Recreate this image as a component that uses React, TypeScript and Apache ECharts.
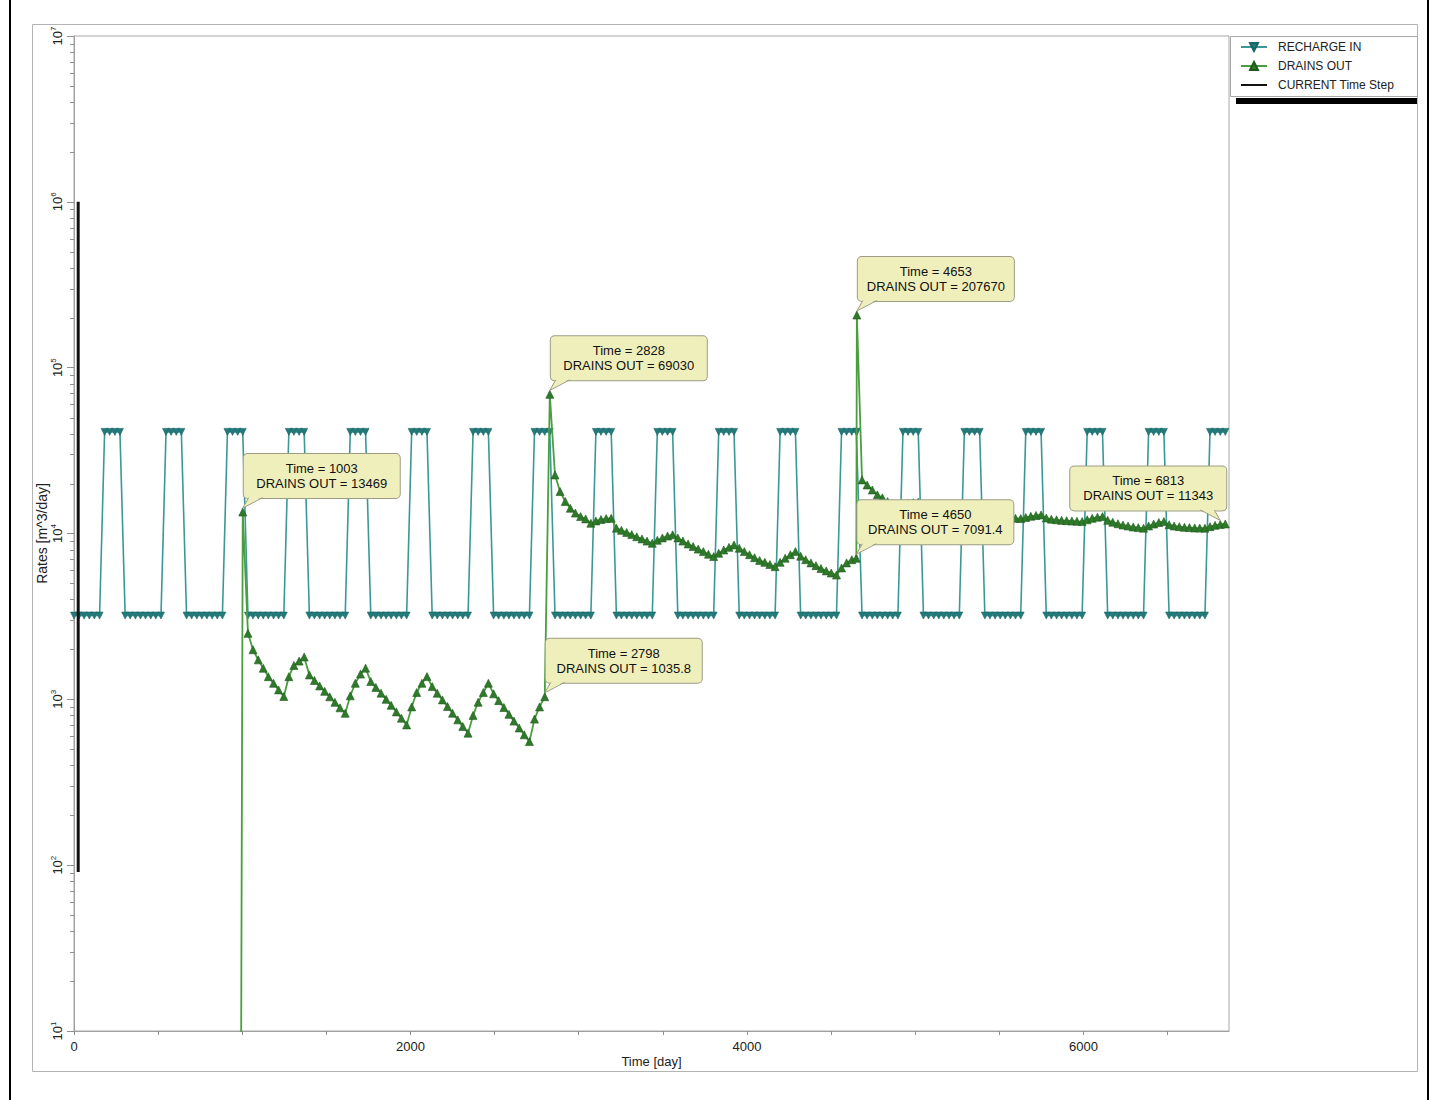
import React, { useEffect, useRef } from "react";
import * as echarts from "echarts";

// Model output times [day] (monthly steps, plus the stress-period point 4650)
const TIMES: number[] = [
  0, 30, 60, 91, 121, 152, 182, 212, 243, 273, 304, 334,
  365, 395, 425, 456, 486, 517, 547, 577, 608, 638, 669, 699,
  730, 760, 790, 821, 851, 882, 912, 942, 973, 1003, 1034, 1064,
  1095, 1125, 1155, 1186, 1216, 1247, 1277, 1307, 1338, 1368, 1399, 1429,
  1460, 1490, 1520, 1551, 1581, 1612, 1642, 1672, 1703, 1733, 1764, 1794,
  1825, 1855, 1885, 1916, 1946, 1977, 2007, 2037, 2068, 2098, 2129, 2159,
  2190, 2220, 2250, 2281, 2311, 2342, 2372, 2402, 2433, 2463, 2494, 2524,
  2555, 2585, 2615, 2646, 2676, 2707, 2737, 2767, 2798, 2828, 2859, 2889,
  2920, 2950, 2980, 3011, 3041, 3072, 3102, 3132, 3163, 3193, 3224, 3254,
  3285, 3315, 3345, 3376, 3406, 3437, 3467, 3497, 3528, 3558, 3589, 3619,
  3650, 3680, 3710, 3741, 3771, 3802, 3832, 3862, 3893, 3923, 3954, 3984,
  4015, 4045, 4075, 4106, 4136, 4167, 4197, 4227, 4258, 4288, 4319, 4349,
  4380, 4410, 4440, 4471, 4501, 4532, 4562, 4592, 4623, 4650, 4653, 4684, 4714,
  4745, 4775, 4805, 4836, 4866, 4897, 4927, 4957, 4988, 5018, 5049, 5079,
  5110, 5140, 5170, 5201, 5231, 5262, 5292, 5322, 5353, 5383, 5414, 5444,
  5475, 5505, 5535, 5566, 5596, 5627, 5657, 5687, 5718, 5748, 5779, 5809,
  5840, 5870, 5900, 5931, 5961, 5992, 6022, 6052, 6083, 6113, 6144, 6174,
  6205, 6235, 6265, 6296, 6326, 6357, 6387, 6417, 6448, 6478, 6509, 6539,
  6570, 6600, 6630, 6661, 6691, 6722, 6752, 6782, 6813, 6843,
];

// RECHARGE IN [m^3/day]: dry-season and wet-season levels
const L = 3200;
const H = 41000;
const RECHARGE_IN: number[] = [
  L, L, L, L, L, L, H, H, H, H, L, L,
  L, L, L, L, L, L, H, H, H, H, L, L,
  L, L, L, L, L, L, H, H, H, H, L, L,
  L, L, L, L, L, L, H, H, H, H, L, L,
  L, L, L, L, L, L, H, H, H, H, L, L,
  L, L, L, L, L, L, H, H, H, H, L, L,
  L, L, L, L, L, L, H, H, H, H, L, L,
  L, L, L, L, L, L, H, H, H, H, L, L,
  L, L, L, L, L, L, H, H, H, H, L, L,
  L, L, L, L, L, L, H, H, H, H, L, L,
  L, L, L, L, L, L, H, H, H, H, L, L,
  L, L, L, L, L, L, H, H, H, H, L, L,
  L, L, L, L, L, L, H, H, H, H, H, L, L,
  L, L, L, L, L, L, H, H, H, H, L, L,
  L, L, L, L, L, L, H, H, H, H, L, L,
  L, L, L, L, L, L, H, H, H, H, L, L,
  L, L, L, L, L, L, H, H, H, H, L, L,
  L, L, L, L, L, L, H, H, H, H, L, L,
  L, L, L, L, L, L, H, H, H, H,
];

// DRAINS OUT [m^3/day]; null = drains not yet active, 0 = zero outflow
const DRAINS_OUT: (number | null)[] = [
  null, null, null, null, null, null, null, null, null, null, null, null,
  null, null, null, null, null, null, null, null, null, null, null, null,
  null, null, null, null, null, null, null, null, 0, 13469, 2500, 1990,
  1730, 1540, 1370, 1250, 1140, 1040, 1370, 1600, 1700, 1800, 1403, 1300,
  1205, 1117, 1035, 959, 889, 824, 1050, 1250, 1420, 1542, 1280, 1180,
  1090, 1000, 920, 840, 770, 701, 900, 1100, 1250, 1371, 1194, 1089,
  992, 905, 825, 752, 686, 625, 800, 960, 1100, 1250, 1080, 982,
  893, 812, 739, 672, 611, 556, 760, 900, 1035.8, 69030, 22550, 17900,
  15600, 14200, 13270, 12650, 12250, 11530, 11900, 12150, 12300, 12350, 10770, 10450,
  10150, 9850, 9560, 9280, 9000, 8730, 9100, 9400, 9650, 9820, 9400, 9000,
  8650, 8350, 8050, 7780, 7500, 7260, 7600, 7950, 8250, 8530, 8150, 7780,
  7450, 7150, 6880, 6700, 6500, 6310, 6700, 7100, 7450, 7780, 7300, 6950,
  6650, 6400, 6150, 5950, 5780, 5620, 6200, 6650, 6950, 7091.4, 207670, 21040, 19620,
  18300, 17100, 16400, 15570, 15100, 14700, 15000, 15200, 15350, 15450, 14700, 14300,
  14000, 13700, 13450, 13200, 13000, 12800, 13100, 13300, 13450, 13550, 13000, 12750,
  12600, 12500, 12450, 12400, 12350, 12300, 12500, 12700, 12850, 12950, 12400, 12200,
  12100, 12000, 11950, 11900, 11850, 11800, 12100, 12350, 12550, 12650, 12000, 11700,
  11450, 11250, 11100, 10950, 10850, 10770, 11100, 11400, 11650, 11800, 11300, 11100,
  11000, 10900, 10850, 10800, 10780, 10770, 11000, 11200, 11343, 11420,
];

// CURRENT Time Step marker line
const CURRENT_TIME = [25, 25];
const CURRENT_RANGE = [1e6, 91];

// Annotated points
const CALLOUT_TIMES = [1003, 2828, 4653, 2798, 4650, 6813];
const CALLOUT_VALUES = [13469, 69030, 207670, 1035.8, 7091.4, 11343];
const CALLOUT_SIDES = ["right", "right", "right", "right", "right", "left"];

const X_MAX = 6865;
const Y_MIN = 10;
const Y_MAX = 1e7;
const FONT = 'Arial, "Liberation Sans", sans-serif';

export default function App() {
  const ref = useRef<HTMLDivElement>(null);

  useEffect(() => {
    if (!ref.current) return;
    const chart = echarts.init(ref.current, null, { renderer: "svg" });

    const rechargeData = TIMES.map((t, i) => [t, RECHARGE_IN[i]]);
    const drainsData: number[][] = [];
    TIMES.forEach((t, i) => {
      const v = DRAINS_OUT[i];
      if (v === null || v === undefined) return;
      // zero cannot be shown on a log axis: place it far below the axis (clipped)
      drainsData.push([t, v === 0 ? 1e-6 : v]);
    });
    const currentData = CURRENT_TIME.map((t, i) => [t, CURRENT_RANGE[i]]);

    const gridLeft = 74;
    const gridTop = 36;
    const gridRight = 1434 - 1229;
    const gridBottom = 1100 - 1031;

    chart.setOption({
      animation: false,
      backgroundColor: "#fff",
      textStyle: { fontFamily: FONT },
      grid: {
        left: gridLeft,
        top: gridTop,
        right: gridRight,
        bottom: gridBottom,
        show: true,
        borderColor: "#a8a8a8",
        borderWidth: 1,
        backgroundColor: "transparent",
      },
      legend: {
        orient: "vertical",
        left: 1240,
        top: 40,
        padding: 0,
        itemWidth: 26,
        itemHeight: 10,
        itemGap: 5,
        selectedMode: false,
        textStyle: { fontSize: 12, color: "#222", fontFamily: FONT, padding: [0, 0, 0, 6], lineHeight: 14 },
        data: [
          { name: "RECHARGE IN" },
          { name: "DRAINS OUT" },
          { name: "CURRENT Time Step", itemStyle: { opacity: 0 } },
        ],
      },
      xAxis: {
        type: "value",
        min: 0,
        max: X_MAX,
        interval: 500,
        name: "Time [day]",
        nameLocation: "middle",
        nameGap: 24,
        nameMoveOverlap: false,
        nameTextStyle: { fontSize: 13, color: "#222", fontFamily: FONT },
        splitLine: { show: false },
        axisLine: { show: true, lineStyle: { color: "#a0a0a0" } },
        axisTick: { show: true, length: 4, lineStyle: { color: "#909090" } },
        axisLabel: {
          fontSize: 13,
          color: "#222",
          margin: 9,
          showMaxLabel: false,
          formatter: (v: number) => (v % 2000 === 0 ? String(v) : ""),
        },
      },
      yAxis: {
        type: "log",
        logBase: 10,
        min: Y_MIN,
        max: Y_MAX,
        splitNumber: 6,
        name: "Rates [m^3/day]",
        nameLocation: "middle",
        nameGap: 25,
        nameMoveOverlap: false,
        nameTextStyle: { fontSize: 14, color: "#222", fontFamily: FONT },
        splitLine: { show: false },
        axisLine: { show: true, lineStyle: { color: "#a0a0a0" } },
        axisTick: { show: true, length: 7, lineStyle: { color: "#909090" } },
        axisLabel: {
          rotate: 90,
          margin: 8,
          color: "#222",
          formatter: (v: number) => `{b|10}{s|${Math.round(Math.log10(v))}}`,
          rich: {
            b: { fontSize: 13, color: "#222", fontFamily: FONT },
            s: { fontSize: 8, color: "#222", fontFamily: FONT, padding: [0, 0, 9, 0] },
          },
        },
      },
      series: [
        {
          name: "RECHARGE IN",
          type: "line",
          data: rechargeData,
          symbol: "triangle",
          symbolRotate: 180,
          symbolSize: 7,
          showSymbol: true,
          clip: true,
          lineStyle: { color: "#3c9898", width: 1.6 },
          itemStyle: { color: "#237a7a", borderColor: "#1a6464", borderWidth: 0.6 },
          z: 2,
        },
        {
          name: "DRAINS OUT",
          type: "line",
          data: drainsData,
          symbol: "triangle",
          symbolSize: 8,
          showSymbol: true,
          clip: true,
          lineStyle: { color: "#4a9e3e", width: 1.8 },
          itemStyle: { color: "#2f7a2a", borderColor: "#1f5a1c", borderWidth: 0.6 },
          z: 3,
        },
        {
          name: "CURRENT Time Step",
          type: "line",
          data: currentData,
          symbol: "none",
          clip: true,
          lineStyle: { color: "#111", width: 3 },
          itemStyle: { color: "#111" },
          z: 4,
        },
      ],
    });

    const graphics: any[] = [];

    // outer frame lines
    graphics.push({
      type: "rect",
      shape: { x: 32.5, y: 24.5, width: 1385, height: 1047 },
      style: { fill: "none", stroke: "#b4b4b4", lineWidth: 1 },
      z: 1,
    });
    graphics.push({ type: "rect", shape: { x: 9, y: 0, width: 2, height: 1100 }, style: { fill: "#000" }, z: 1 });
    graphics.push({ type: "rect", shape: { x: 1427, y: 0, width: 2, height: 1100 }, style: { fill: "#000" }, z: 1 });
    // legend frame and bar
    graphics.push({
      type: "rect",
      shape: { x: 1230.5, y: 36.5, width: 187, height: 60 },
      style: { fill: "none", stroke: "#a8a8a8", lineWidth: 1 },
      z: 1,
    });
    graphics.push({ type: "rect", shape: { x: 1236, y: 98, width: 181, height: 6 }, style: { fill: "#000" }, z: 1 });

    // log minor ticks on the y axis
    const px0 = chart.convertToPixel({ xAxisIndex: 0 }, 0) as number;
    for (let e = 1; e < 7; e++) {
      for (let d = 2; d <= 9; d++) {
        const v = d * Math.pow(10, e);
        const py = chart.convertToPixel({ yAxisIndex: 0 }, v) as number;
        graphics.push({
          type: "line",
          shape: { x1: px0 - 4, y1: Math.round(py) + 0.5, x2: px0, y2: Math.round(py) + 0.5 },
          style: { stroke: "#909090", lineWidth: 1 },
          z: 1,
        });
      }
    }

    // callouts
    const BOX_W = 156;
    const FILL = "#efefbb";
    const BORDER = "#9c9c86";
    CALLOUT_TIMES.forEach((t, i) => {
      const v = CALLOUT_VALUES[i];
      const p = chart.convertToPixel({ gridIndex: 0 }, [t, v]) as number[];
      const side = CALLOUT_SIDES[i];
      const boxBottom = p[1] - 14;
      const cx = side === "right" ? p[0] + 1 + BOX_W / 2 : p[0] + 6 - BOX_W / 2;
      graphics.push({
        type: "text",
        x: cx,
        y: boxBottom,
        z: 20,
        style: {
          text: `Time = ${t}\nDRAINS OUT = ${v}`,
          fontSize: 13,
          fontFamily: FONT,
          fill: "#111",
          align: "center",
          verticalAlign: "bottom",
          lineHeight: 15,
          width: BOX_W - 16,
          padding: [7, 8, 7, 8],
          backgroundColor: FILL,
          borderColor: BORDER,
          borderWidth: 1,
          borderRadius: 4,
        },
      });
      const tip = [p[0], p[1] - 4];
      const a = side === "right" ? [p[0] + 6, boxBottom] : [p[0] - 6, boxBottom];
      const b = side === "right" ? [p[0] + 20, boxBottom] : [p[0] - 20, boxBottom];
      graphics.push({
        type: "polygon",
        z: 21,
        shape: { points: [tip, [a[0], a[1] - 1.5], [b[0], b[1] - 1.5]] },
        style: { fill: FILL, stroke: "none" },
      });
      graphics.push({
        type: "polyline",
        z: 22,
        shape: { points: [[a[0], a[1] - 0.5], tip, [b[0], b[1] - 0.5]] },
        style: { fill: "none", stroke: BORDER, lineWidth: 1 },
      });
    });

    chart.setOption({ graphic: graphics });

    return () => {
      chart.dispose();
    };
  }, []);

  return (
    <div
      ref={ref}
      style={{ position: "absolute", left: 0, top: 0, width: 1434, height: 1100, background: "#fff" }}
    />
  );
}
